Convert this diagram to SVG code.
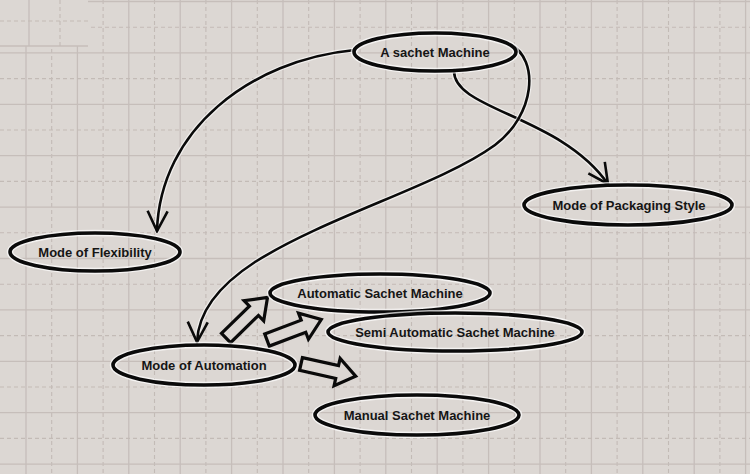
<svg xmlns="http://www.w3.org/2000/svg" width="750" height="474" viewBox="0 0 750 474">
<defs>
<style>
.bg{fill:#dcd7d3}
.gs{stroke:#c6beba;stroke-width:1.3;fill:none}
.gd{stroke:#c3bbb6;stroke-width:1.1;fill:none;stroke-dasharray:4 3}
.halo{fill:none;stroke:#ffffff;stroke-opacity:0.7;stroke-width:6.5}
.ell{fill:none;stroke:#0a0a0a;stroke-width:3.6}
.con{fill:none;stroke:#0a0a0a;stroke-width:2.6;stroke-linecap:round;stroke-linejoin:round}
.conh{fill:none;stroke:#ffffff;stroke-opacity:0.6;stroke-width:5;stroke-linecap:round}
.blk{fill:#dcd7d3;stroke:#0a0a0a;stroke-width:3.2;stroke-linejoin:miter}
.lbl{font-family:"Liberation Sans",Arial,sans-serif;font-weight:bold;font-size:13px;fill:#151515;text-anchor:middle}
</style>
<marker id="v" viewBox="0 0 24 24" refX="22" refY="12" markerWidth="24" markerHeight="24" markerUnits="userSpaceOnUse" orient="auto">
<path d="M2,2 L22,12 L2,22" fill="none" stroke="#0a0a0a" stroke-width="2.6" stroke-linejoin="miter"/>
</marker>
</defs>
<rect class="bg" x="0" y="0" width="750" height="474"/>
<g id="grid">
<path class="gs" d="M26,0V474M77.4,0V474M128.8,0V474M180.2,0V474M231.6,0V474M283,0V474M334.4,0V474M385.8,0V474M437.2,0V474M488.6,0V474M540,0V474M591.4,0V474M642.8,0V474M694.2,0V474M745.6,0V474"/>
<path class="gd" d="M51.7,0V474M103.1,0V474M154.5,0V474M205.9,0V474M257.3,0V474M308.7,0V474M360.1,0V474M411.5,0V474M462.9,0V474M514.3,0V474M565.7,0V474M617.1,0V474M668.5,0V474M719.9,0V474"/>
<path class="gs" d="M0,1.5H750M0,52.9H750M0,104.3H750M0,155.7H750M0,207.1H750M0,258.5H750M0,309.9H750M0,361.3H750M0,412.7H750M0,464.1H750"/>
<path class="gd" d="M0,27.2H750M0,78.6H750M0,130H750M0,181.4H750M0,232.8H750M0,284.2H750M0,335.6H750M0,387H750M0,438.4H750"/>
<rect class="bg" x="0" y="0" width="88" height="46"/>
<path class="gs" d="M29,0V46M0,46H88"/>
<path class="gd" d="M60,0V46M0,21H88"/>
</g>
<g id="connectors">
<path class="conh" d="M355,50 C250,60 160,130 157,231"/>
<path class="con" d="M355,50 C250,60 160,130 157,231" marker-end="url(#v)"/>
<path class="conh" d="M454,70 C452,110 560,115 608,184"/>
<path class="con" d="M454,70 C452,110 560,115 608,184" marker-end="url(#v)"/>
<path class="conh" d="M510,44 C540,60 535,115 495,145 C440,185 330,215 255,262 C215,288 198,315 197,342"/>
<path class="con" d="M510,44 C540,60 535,115 495,145 C440,185 330,215 255,262 C215,288 198,315 197,342" marker-end="url(#v)"/>
<polygon class="blk" transform="translate(226,338) rotate(-44.3)" points="0,-6.5 39,-6.5 39,-14 58,0 39,14 39,6.5 0,6.5"/>
<polygon class="blk" transform="translate(267,340) rotate(-20.7)" points="0,-6.5 39,-6.5 39,-14 58,0 39,14 39,6.5 0,6.5"/>
<polygon class="blk" transform="translate(301,364) rotate(12.5)" points="0,-6.5 37,-6.5 37,-14 56,0 37,14 37,6.5 0,6.5"/>
</g>
<g id="n-sachet">
<ellipse class="halo" cx="435" cy="52" rx="81" ry="19"/>
<ellipse class="ell" cx="435" cy="52" rx="81" ry="19"/>
<text class="lbl" x="435" y="56.5">A sachet Machine</text>
</g>
<g id="n-flex">
<ellipse class="halo" cx="95" cy="252" rx="85" ry="19"/>
<ellipse class="ell" cx="95" cy="252" rx="85" ry="19"/>
<text class="lbl" x="95" y="256.5">Mode of Flexibility</text>
</g>
<g id="n-pack">
<ellipse class="halo" cx="628" cy="205" rx="104" ry="20"/>
<ellipse class="ell" cx="628" cy="205" rx="104" ry="20"/>
<text class="lbl" x="629" y="209.5">Mode of Packaging Style</text>
</g>
<g id="n-auto">
<ellipse class="halo" cx="380" cy="293" rx="110" ry="19"/>
<ellipse class="ell" cx="380" cy="293" rx="110" ry="19"/>
<text class="lbl" x="380" y="297.5">Automatic Sachet Machine</text>
</g>
<g id="n-semi">
<ellipse class="halo" cx="455" cy="332" rx="127" ry="19"/>
<ellipse class="ell" cx="455" cy="332" rx="127" ry="19"/>
<text class="lbl" x="455" y="336.5">Semi Automatic Sachet Machine</text>
</g>
<g id="n-mode-auto">
<ellipse class="halo" cx="204" cy="365" rx="91" ry="20"/>
<ellipse class="ell" cx="204" cy="365" rx="91" ry="20"/>
<text class="lbl" x="204" y="369.5">Mode of Automation</text>
</g>
<g id="n-manual">
<ellipse class="halo" cx="417" cy="415" rx="102" ry="20"/>
<ellipse class="ell" cx="417" cy="415" rx="102" ry="20"/>
<text class="lbl" x="417" y="419.5">Manual Sachet Machine</text>
</g>
</svg>
